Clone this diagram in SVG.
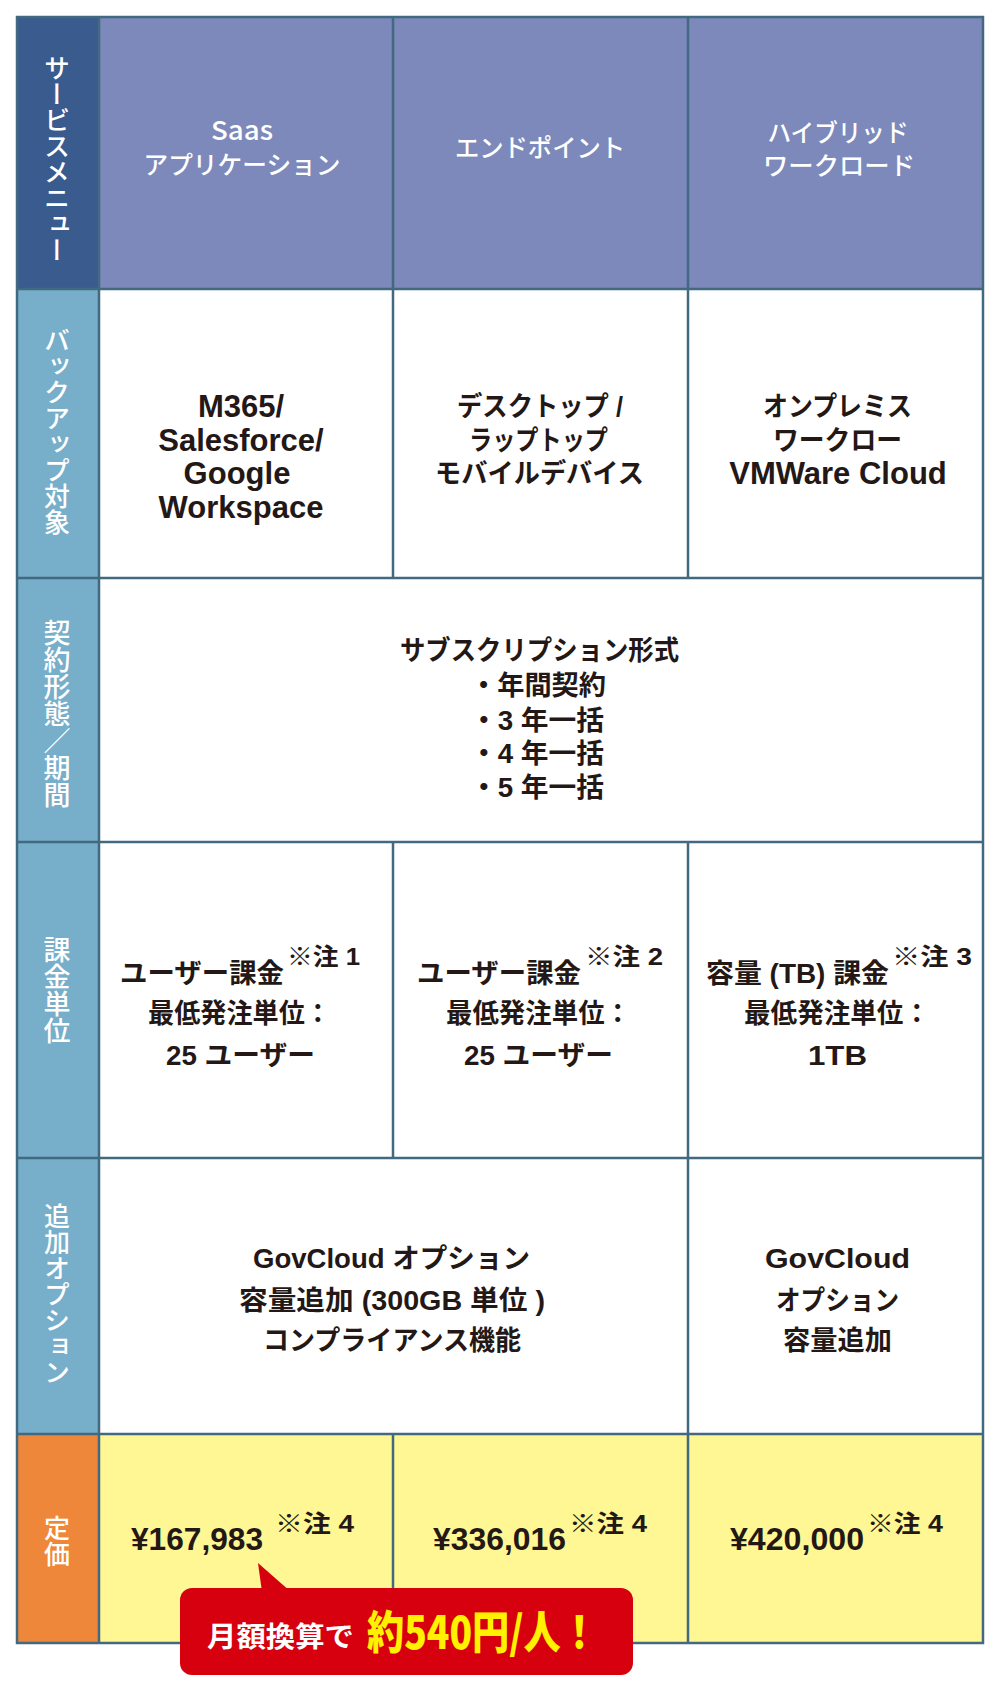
<svg xmlns="http://www.w3.org/2000/svg" width="1000" height="1693" viewBox="0 0 1000 1693">
<defs>
<style>
.lbl{font-family:"Noto Sans CJK JP",sans-serif;font-weight:500;font-size:26px;fill:#ffffff;writing-mode:vertical-rl;text-anchor:middle}
.hd{font-family:"Noto Sans CJK JP",sans-serif;font-weight:500;font-size:25px;fill:#ffffff;text-anchor:middle}
.lat{font-family:"Liberation Sans",Arial,sans-serif;font-weight:bold;font-size:31px;fill:#231815;text-anchor:middle}
.jp{font-family:"Liberation Sans","Noto Sans CJK JP",sans-serif;font-weight:bold;font-size:27px;fill:#231815}
.sup{font-family:"Liberation Sans","Noto Sans CJK JP",sans-serif;font-weight:bold;font-size:24px;fill:#231815}
.pr{font-family:"Liberation Sans",Arial,sans-serif;font-weight:bold;font-size:32px;fill:#231815}
.grid{stroke:#41697f;stroke-width:2.5;fill:none}
</style>
</defs>
<rect width="1000" height="1693" fill="#ffffff"/>

<g id="backgrounds">
<rect x="17" y="17" width="82" height="272" fill="#3a5b8e"/>
<rect x="99" y="17" width="884" height="272" fill="#7d89ba"/>
<rect x="17" y="289" width="82" height="1145" fill="#77aeca"/>
<rect x="17" y="1434" width="82" height="209" fill="#ef873a"/>
<rect x="99" y="1434" width="884" height="209" fill="#fff694"/>
</g>

<g id="grid" class="grid">
<rect x="17" y="17" width="966" height="1626"/>
<line x1="99" y1="17" x2="99" y2="1643"/>
<line x1="393" y1="17" x2="393" y2="578"/>
<line x1="393" y1="842" x2="393" y2="1158"/>
<line x1="393" y1="1434" x2="393" y2="1643"/>
<line x1="688" y1="17" x2="688" y2="578"/>
<line x1="688" y1="842" x2="688" y2="1643"/>
<line x1="17" y1="289" x2="983" y2="289"/>
<line x1="17" y1="578" x2="983" y2="578"/>
<line x1="17" y1="842" x2="983" y2="842"/>
<line x1="17" y1="1158" x2="983" y2="1158"/>
<line x1="17" y1="1434" x2="983" y2="1434"/>
</g>

<g id="row-labels">
<text class="lbl" x="57" y="159">サービスメニュー</text>
<text class="lbl" x="57" y="431">バックアップ対象</text>
<text class="lbl" x="57" y="714" style="font-size:27px">契約形態／期間</text>
<text class="lbl" x="57" y="990" style="font-size:27px">課金単位</text>
<text class="lbl" x="57" y="1294">追加オプション</text>
<text class="lbl" x="57" y="1541">定価</text>
</g>

<g id="header-saas">
<text class="hd" x="242" y="140" textLength="62" lengthAdjust="spacingAndGlyphs" style="font-size:26px">Saas</text>
<text class="hd" x="242" y="174" textLength="197" lengthAdjust="spacingAndGlyphs">アプリケーション</text>
</g>
<g id="header-endpoint">
<text class="hd" x="540" y="157" textLength="170" lengthAdjust="spacingAndGlyphs">エンドポイント</text>
</g>
<g id="header-hybrid">
<text class="hd" x="838" y="142" textLength="141" lengthAdjust="spacingAndGlyphs">ハイブリッド</text>
<text class="hd" x="839" y="175" textLength="152" lengthAdjust="spacingAndGlyphs">ワークロード</text>
</g>

<g id="target-saas">
<text class="lat" x="241" y="417">M365/</text>
<text class="lat" x="241" y="451">Salesforce/</text>
<text class="lat" x="237" y="484">Google</text>
<text class="lat" x="241" y="518">Workspace</text>
</g>
<g id="target-endpoint">
<text class="jp" x="457" y="416" textLength="166" lengthAdjust="spacingAndGlyphs">デスクトップ /</text>
<text class="jp" x="469" y="450" textLength="139" lengthAdjust="spacingAndGlyphs">ラップトップ</text>
<text class="jp" x="435" y="483" textLength="209" lengthAdjust="spacingAndGlyphs">モバイルデバイス</text>
</g>
<g id="target-hybrid">
<text class="jp" x="763" y="416" textLength="149" lengthAdjust="spacingAndGlyphs">オンプレミス</text>
<text class="jp" x="773" y="450" textLength="129" lengthAdjust="spacingAndGlyphs">ワークロー</text>
<text class="lat" x="838" y="484">VMWare Cloud</text>
</g>

<g id="contract">
<text class="jp" x="400" y="660" textLength="279" lengthAdjust="spacingAndGlyphs">サブスクリプション形式</text>
<text class="jp" x="470" y="695" textLength="136" lengthAdjust="spacingAndGlyphs">・年間契約</text>
<text class="jp" x="470" y="730" textLength="134" lengthAdjust="spacingAndGlyphs">・3 年一括</text>
<text class="jp" x="470" y="763" textLength="134" lengthAdjust="spacingAndGlyphs">・4 年一括</text>
<text class="jp" x="470" y="797" textLength="134" lengthAdjust="spacingAndGlyphs">・5 年一括</text>
</g>

<g id="billing-saas">
<text class="jp" x="120" y="983" textLength="164" lengthAdjust="spacingAndGlyphs">ユーザー課金</text>
<text class="sup" x="287" y="965" textLength="73" lengthAdjust="spacingAndGlyphs">※注 1</text>
<text class="jp" x="148" y="1023" textLength="183" lengthAdjust="spacingAndGlyphs">最低発注単位：</text>
<text class="jp" x="166" y="1065" textLength="149" lengthAdjust="spacingAndGlyphs">25 ユーザー</text>
</g>
<g id="billing-endpoint">
<text class="jp" x="417" y="983" textLength="164" lengthAdjust="spacingAndGlyphs">ユーザー課金</text>
<text class="sup" x="585" y="965" textLength="78" lengthAdjust="spacingAndGlyphs">※注 2</text>
<text class="jp" x="446" y="1023" textLength="185" lengthAdjust="spacingAndGlyphs">最低発注単位：</text>
<text class="jp" x="464" y="1065" textLength="149" lengthAdjust="spacingAndGlyphs">25 ユーザー</text>
</g>
<g id="billing-hybrid">
<text class="jp" x="706" y="983" textLength="183" lengthAdjust="spacingAndGlyphs">容量 (TB) 課金</text>
<text class="sup" x="892" y="965" textLength="80" lengthAdjust="spacingAndGlyphs">※注 3</text>
<text class="jp" x="744" y="1023" textLength="186" lengthAdjust="spacingAndGlyphs">最低発注単位：</text>
<text class="jp" x="808" y="1065" textLength="59" lengthAdjust="spacingAndGlyphs">1TB</text>
</g>

<g id="options-saas-endpoint">
<text class="jp" x="253" y="1268" textLength="277" lengthAdjust="spacingAndGlyphs">GovCloud オプション</text>
<text class="jp" x="239" y="1310" textLength="306" lengthAdjust="spacingAndGlyphs">容量追加 (300GB 単位 )</text>
<text class="jp" x="263" y="1350" textLength="258" lengthAdjust="spacingAndGlyphs">コンプライアンス機能</text>
</g>
<g id="options-hybrid">
<text class="jp" x="765" y="1268" textLength="145" lengthAdjust="spacingAndGlyphs">GovCloud</text>
<text class="jp" x="776" y="1310" textLength="123" lengthAdjust="spacingAndGlyphs">オプション</text>
<text class="jp" x="783" y="1350" textLength="109" lengthAdjust="spacingAndGlyphs">容量追加</text>
</g>

<g id="price-saas">
<text class="pr" x="131" y="1550" textLength="132" lengthAdjust="spacingAndGlyphs">¥167,983</text>
<text class="sup" x="275" y="1532" textLength="79" lengthAdjust="spacingAndGlyphs">※注 4</text>
</g>
<g id="price-endpoint">
<text class="pr" x="433" y="1550" textLength="133" lengthAdjust="spacingAndGlyphs">¥336,016</text>
<text class="sup" x="569" y="1532" textLength="78" lengthAdjust="spacingAndGlyphs">※注 4</text>
</g>
<g id="price-hybrid">
<text class="pr" x="730" y="1550" textLength="134" lengthAdjust="spacingAndGlyphs">¥420,000</text>
<text class="sup" x="867" y="1532" textLength="76" lengthAdjust="spacingAndGlyphs">※注 4</text>
</g>

<g id="callout">
<path d="M258,1563 L262,1592 L291,1592 Z" fill="#d6000f"/>
<rect x="180" y="1588" width="453" height="87" rx="12" fill="#d6000f"/>
<text x="207" y="1647" textLength="147" lengthAdjust="spacingAndGlyphs" style="font-family:'Noto Sans CJK JP',sans-serif;font-weight:bold;font-size:28px;fill:#ffffff">月額換算で</text>
<text x="367" y="1649" textLength="231" lengthAdjust="spacingAndGlyphs" style="font-family:'Noto Sans CJK JP',sans-serif;font-weight:900;font-size:45px;fill:#fff100">約540円/人！</text>
</g>
</svg>
